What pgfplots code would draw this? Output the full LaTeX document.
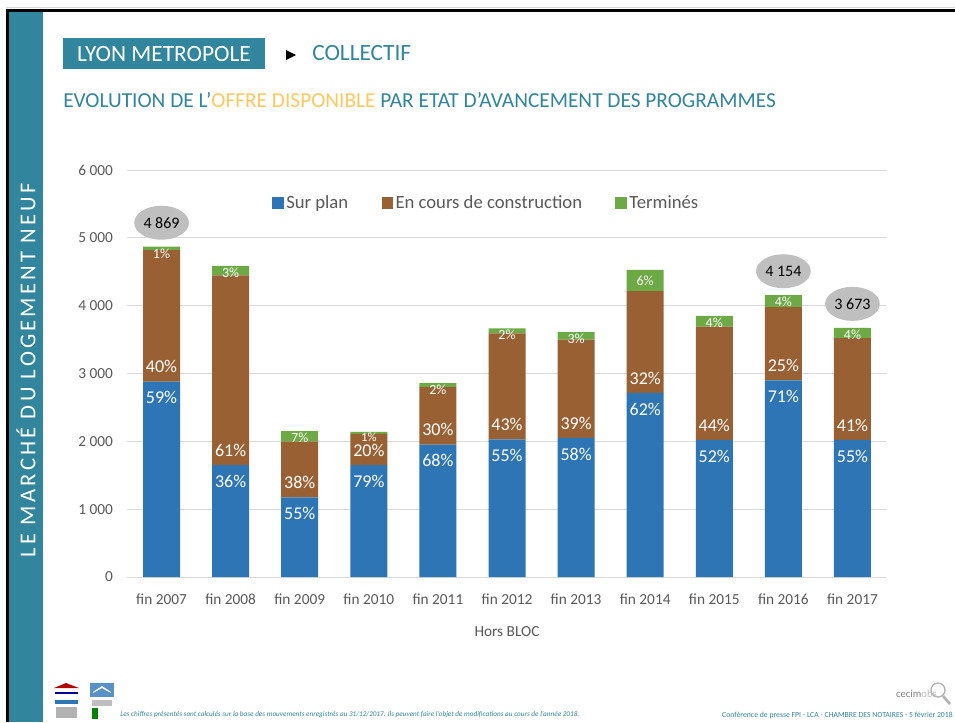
\documentclass[border=0pt]{standalone}
\usepackage{pgfplots}
\pgfplotsset{compat=1.18}
\usepackage{pgfplotstable}
\usepackage{fontspec}
\setmainfont{Carlito}
\usetikzlibrary{shapes.geometric}
\definecolor{teal1}{HTML}{31859C}
\definecolor{orng}{HTML}{FFC85E}
\definecolor{cblue}{HTML}{2E75B6}
\definecolor{cbrown}{HTML}{996133}
\definecolor{cgreen}{HTML}{6DA944}
\definecolor{txtgray}{HTML}{595959}
\definecolor{gridgray}{HTML}{D9D9D9}
\definecolor{ellgray}{HTML}{BFBFBF}

\tikzset{
  lbl/.style={text=white, font=\fontsize{13.5}{15}\selectfont, inner sep=0},
  glbl/.style={text=white, font=\fontsize{10.5}{11}\selectfont, inner sep=0},
  tot/.style={ellipse, fill=ellgray, minimum width=41pt, minimum height=25.5pt, inner sep=0, font=\fontsize{12}{14}\selectfont, yshift=18pt},
}

\pgfplotstableread{
x blue brown green total
0 2880 1940 49 4869
1 1651 2797 137 4585
2 1175 820 157 2152
3 1650 460 28 2138
4 1950 850 60 2860
5 2030 1560 75 3665
6 2050 1450 110 3610
7 2713 1503 310 4526
8 2020 1670 160 3850
9 2900 1080 174 4154
10 2020 1503 150 3673
}\datatable

\newcommand\barlab[6]{%
  \node[lbl,yshift=-12pt] at (axis cs:#1,#2) {#4\%};
  \node[lbl,yshift=11.25pt] at (axis cs:#1,#2) {#5\%};
  \node[glbl,yshift=-5pt] at (axis cs:#1,#3) {#6\%};
}

\pgfplotsset{
  common/.style={
    at={(95.25pt,-432.75pt)}, anchor=south west,
    width=570pt, height=305.25pt, scale only axis,
    xmin=-0.5, xmax=10.5, ymin=0, ymax=6000,
  }
}

\begin{document}
\begin{tikzpicture}
\begin{scope}[x=0.75pt,y=-0.75pt]
\path[use as bounding box] (0,0) rectangle (955,722);
\fill[white] (0,0) rectangle (955,722);
\fill[teal1] (9,11) rectangle (43,722);
\draw[black, line width=2.25pt] (7.5,722) -- (7.5,10) -- (955,10);
\draw[gray!30, line width=0.75pt] (6,7.5) -- (955,7.5);
% left band text
\node[rotate=90, text=white, inner sep=0, font=\fontsize{17}{20}\selectfont\addfontfeatures{LetterSpace=14}] at (26,370) {LE MARCHÉ DU LOGEMENT NEUF};
% header
\fill[teal1] (63,38) rectangle (265,69);
\node[text=white, inner sep=0, font=\fontsize{17.5}{20}\selectfont] at (164,54) {LYON METROPOLE};
\fill[black] (286,50) -- (296,55) -- (286,60) -- cycle;
\node[text=teal1, anchor=west, inner sep=0, font=\fontsize{17.5}{20}\selectfont] at (312,53) {COLLECTIF};
\node[text=teal1, anchor=west, inner sep=0, font=\fontsize{16}{19}\selectfont] at (63,100) {EVOLUTION DE L’\textcolor{orng}{OFFRE DISPONIBLE} PAR ETAT D’AVANCEMENT DES PROGRAMMES};
% footer
\node[text=teal1, anchor=west, inner sep=0, font=\fontsize{5.4}{6}\selectfont\itshape] at (120,715) {Les chiffres présentés sont calculés sur la base des mouvements enregistrés au 31/12/2017. Ils peuvent faire l’objet de modifications au cours de l’année 2018.};
\node[text=teal1, anchor=east, inner sep=0, font=\fontsize{5.8}{7}\selectfont] at (953,715) {Conférence de presse FPI - LCA - CHAMBRE DES NOTAIRES - 5 février 2018};
% logos (approximate)
\fill[red!70!black] (54,688) -- (66,683) -- (79,688) -- cycle;
\fill[blue!60!black] (55,692) rectangle (78,694);
\fill[cblue] (55,700) rectangle (78,704);
\fill[gray!60] (56,707) rectangle (77,718);
\fill[cblue!80] (90,683) rectangle (114,697);
\fill[white] (93,692) -- (102,686) -- (111,692) -- (111,693) -- (102,688) -- (93,693) -- cycle;
\fill[gray!50] (92,700) rectangle (112,706);
\fill[green!50!black] (92,708) rectangle (98,719);
\node[inner sep=0, font=\fontsize{8}{9}\selectfont, anchor=east] at (937,694) {\textcolor{gray}{cecim}\textcolor{gray!50}{obs}};
\draw[gray!60, line width=1pt] (938,690) circle (7);
\draw[gray!60, line width=2pt] (943,696) -- (950,704);
\end{scope}

\begin{axis}[
  common,
  ybar stacked, bar width=27.75pt,
  legend image code/.code={\fill[#1] (0pt,-4.25pt) rectangle (8.5pt,4.25pt);},
  xtick={0,...,10},
  xticklabels={fin 2007,fin 2008,fin 2009,fin 2010,fin 2011,fin 2012,fin 2013,fin 2014,fin 2015,fin 2016,fin 2017},
  ytick={0,1000,...,6000},
  ymajorgrids, grid style={gridgray, line width=0.75pt},
  axis line style={draw=none},
  major tick length=0pt,
  /pgf/number format/assume math mode=true,
  /pgf/number format/1000 sep={\ },
  tick label style={font=\fontsize{11.5}{13}\selectfont, text=txtgray},
  yticklabel style={xshift=-7pt},
  xticklabel style={yshift=-9pt},
  xlabel={Hors BLOC},
  xlabel style={at={(axis description cs:0.5,0)}, anchor=center, yshift=-41.25pt, font=\fontsize{11.5}{13}\selectfont, text=txtgray},
  legend style={at={(0.1855,0.919)}, anchor=west, draw=none, fill=none,
    legend columns=3, font=\fontsize{14}{16}\selectfont,
    nodes={text=txtgray, inner sep=2pt},
    /tikz/every even column/.append style={column sep=23pt}},
]
\addplot[fill=cblue, draw=none] table[x=x, y=blue] {\datatable};
\addplot[fill=cbrown, draw=none] table[x=x, y=brown] {\datatable};
\addplot[fill=cgreen, draw=none] table[x=x, y=green] {\datatable};
\legend{Sur plan, En cours de construction, Terminés}
\end{axis}

\begin{axis}[common, hide axis]
\barlab{0}{2880}{4869}{59}{40}{1}
\barlab{1}{1651}{4585}{36}{61}{3}
\barlab{2}{1175}{2152}{55}{38}{7}
\node[lbl,yshift=-12pt] at (axis cs:3,1650) {79\%};
\node[lbl,yshift=11pt] at (axis cs:3,1650) {20\%};
\node[glbl,yshift=-3.75pt,font=\fontsize{9.5}{10}\selectfont] at (axis cs:3,2138) {1\%};
\barlab{4}{1950}{2860}{68}{30}{2}
\barlab{5}{2030}{3665}{55}{43}{2}
\barlab{6}{2050}{3610}{58}{39}{3}
\node[lbl,yshift=-12pt] at (axis cs:7,2713) {62\%};
\node[lbl,yshift=11.25pt] at (axis cs:7,2713) {32\%};
\node[glbl] at (axis cs:7,4371) {6\%};
\barlab{8}{2020}{3850}{52}{44}{4}
\barlab{9}{2900}{4154}{71}{25}{4}
\barlab{10}{2020}{3673}{55}{41}{4}
\node[tot] at (axis cs:0,4869) {4 869};
\node[tot] at (axis cs:9,4154) {4 154};
\node[tot] at (axis cs:10,3673) {3 673};
\end{axis}
\end{tikzpicture}
\end{document}
